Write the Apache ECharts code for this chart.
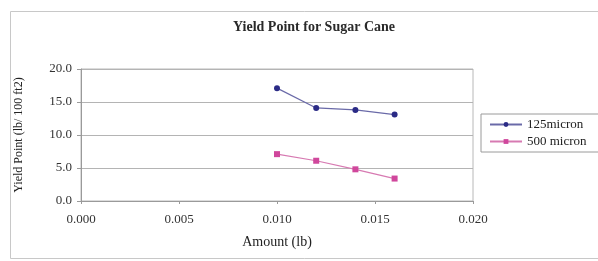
<!DOCTYPE html>
<html>
<head>
<meta charset="utf-8">
<script src="https://cdn.jsdelivr.net/npm/echarts@6/dist/echarts.min.js"></script>
<style>
  html, body { margin: 0; padding: 0; background: #fff; }
  #chart { width: 598px; height: 261px; }
</style>
</head>
<body>
<div id="chart"></div>
<script>
// 数据
var amounts = [0.010, 0.012, 0.014, 0.016];
var micron125 = [17.1, 14.1, 13.8, 13.1];
var micron500 = [7.1, 6.1, 4.8, 3.4];
var seriesNames = ['125micron', '500 micron'];

var blue_color = '#2b2b86';
var pink_color = '#d0479c';
var font = '"Liberation Serif", "Times New Roman", serif';

function pairs(xs, ys) {
    var out = [];
    for (let i = 0; i < xs.length; i++) out.push([xs[i], ys[i]]);
    return out;
}

var myChart = echarts.init(document.getElementById('chart'));

var option = {
    animation: false,
    backgroundColor: '#fff',
    title: {
        text: 'Yield Point for Sugar Cane',
        left: 309,
        textAlign: 'center',
        top: 15,
        textStyle: { fontFamily: font, fontSize: 14, fontWeight: 'bold', color: '#2a2a2a' }
    },
    graphic: [{
        type: 'rect',
        shape: { x: 10.5, y: 11.5, width: 600, height: 247 },
        style: { fill: 'none', stroke: '#c8c8c8', lineWidth: 1 },
        z: -1
    }],
    legend: {
        orient: 'vertical',
        left: 481,
        top: 114,
        width: 116,
        padding: [4, 12, 4, 8],
        itemGap: 4,
        itemWidth: 32,
        itemHeight: 6,
        borderColor: '#9a9a9a',
        borderWidth: 1,
        textStyle: { fontFamily: font, fontSize: 13, color: '#222' },
        data: seriesNames
    },
    grid: { left: 81, right: 125, top: 69, bottom: 60, show: true, borderColor: '#b8b8b8', borderWidth: 1 },
    xAxis: {
        type: 'value',
        min: 0,
        max: 0.02,
        interval: 0.005,
        name: 'Amount (lb)',
        nameLocation: 'middle',
        nameGap: 34,
        nameTextStyle: { fontFamily: font, fontSize: 14, color: '#222' },
        axisLine: { lineStyle: { color: '#9a9a9a' } },
        axisTick: { show: true, length: 3, lineStyle: { color: '#9a9a9a' } },
        splitLine: { show: false },
        axisLabel: {
            fontFamily: font, fontSize: 13, color: '#333', margin: 12,
            formatter: function (v) { return v.toFixed(3); }
        }
    },
    yAxis: {
        type: 'value',
        min: 0,
        max: 20,
        interval: 5,
        name: 'Yield Point (lb/ 100 ft2)',
        nameLocation: 'middle',
        nameGap: 56,
        nameTextStyle: { fontFamily: font, fontSize: 12, color: '#222' },
        axisLine: { show: true, lineStyle: { color: '#9a9a9a' } },
        axisTick: { show: true, length: 4, lineStyle: { color: '#9a9a9a' } },
        splitLine: { show: true, lineStyle: { color: '#b4b4b4' } },
        axisLabel: {
            fontFamily: font, fontSize: 13, color: '#333', margin: 9,
            formatter: function (v) { return v.toFixed(1); }
        }
    },
    series: [
        {
            name: seriesNames[0],
            type: 'line',
            data: pairs(amounts, micron125),
            symbol: 'circle',
            symbolSize: 6,
            itemStyle: { color: blue_color },
            lineStyle: { color: '#6a6aa8', width: 1.2 }
        },
        {
            name: seriesNames[1],
            type: 'line',
            data: pairs(amounts, micron500),
            symbol: 'rect',
            symbolSize: 6,
            itemStyle: { color: pink_color },
            lineStyle: { color: '#d77ab2', width: 1.2 }
        }
    ]
};
myChart.setOption(option);
</script>
</body>
</html>
